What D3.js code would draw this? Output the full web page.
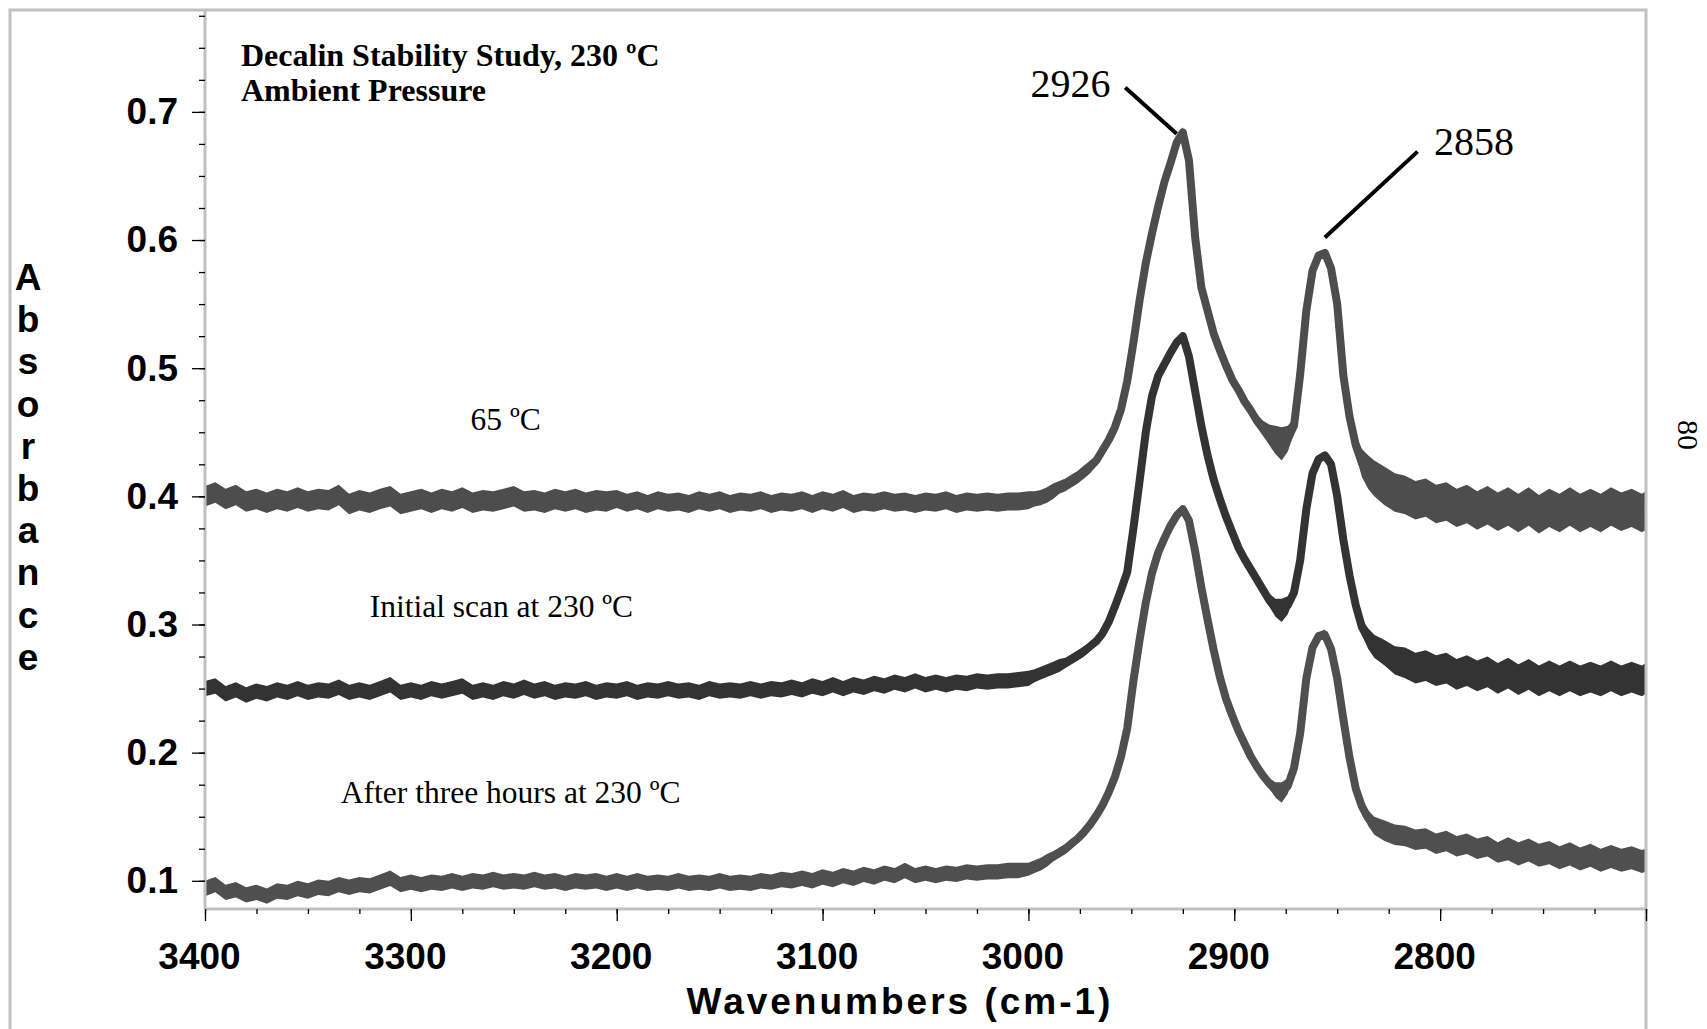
<!DOCTYPE html>
<html>
<head>
<meta charset="utf-8">
<script src="https://cdn.jsdelivr.net/npm/d3@7"></script>
<style>
  body { margin: 0; background: #fff; }
</style>
</head>
<body>
<svg id="chart"></svg>
<script>
//DATA-------------------------------------------------------------------------------------------
//sampling grid (cm-1), shared by the three spectra
const wavenumbers = [
    3400, 3395, 3390, 3385, 3380, 3375, 3370, 3365, 3360, 3355,
    3350, 3345, 3340, 3335, 3330, 3325, 3320, 3315, 3310, 3305,
    3300, 3295, 3290, 3285, 3280, 3275, 3270, 3265, 3260, 3255,
    3250, 3245, 3240, 3235, 3230, 3225, 3220, 3215, 3210, 3205,
    3200, 3195, 3190, 3185, 3180, 3175, 3170, 3165, 3160, 3155,
    3150, 3145, 3140, 3135, 3130, 3125, 3120, 3115, 3110, 3105,
    3100, 3095, 3090, 3085, 3080, 3075, 3070, 3065, 3060, 3055,
    3050, 3045, 3040, 3035, 3030, 3025, 3020, 3015, 3010, 3005,
    3000,
    2997, 2994, 2991, 2988, 2985, 2982, 2979, 2976, 2973, 2970,
    2967, 2964, 2961, 2958, 2955, 2952, 2949, 2946, 2943, 2940,
    2937, 2934, 2931, 2928, 2925, 2922, 2919, 2916, 2913, 2910,
    2907, 2904, 2901, 2898, 2895, 2892, 2889, 2886, 2883, 2880,
    2877, 2874, 2871, 2868, 2865, 2862, 2859, 2856, 2853, 2850,
    2847, 2844, 2841, 2838, 2835, 2832,
    2827, 2822, 2817, 2812, 2807, 2802, 2797, 2792, 2787, 2782,
    2777, 2772, 2767, 2762, 2757, 2752, 2747, 2742, 2737, 2732,
    2727, 2722, 2717, 2712, 2707, 2702, 2700
];

//65 ºC - absorbance (middle of the noisy trace) and half thickness of the trace
const mid65 = [
    0.400, 0.403, 0.398, 0.401, 0.396, 0.398, 0.395, 0.398, 0.396, 0.399,
    0.396, 0.398, 0.397, 0.401, 0.394, 0.397, 0.395, 0.398, 0.400, 0.394,
    0.396, 0.398, 0.395, 0.398, 0.396, 0.399, 0.395, 0.397, 0.396, 0.398,
    0.400, 0.396, 0.397, 0.395, 0.398, 0.396, 0.398, 0.395, 0.397, 0.396,
    0.398, 0.395, 0.397, 0.394, 0.397, 0.395, 0.396, 0.394, 0.397, 0.395,
    0.397, 0.394, 0.396, 0.395, 0.397, 0.394, 0.396, 0.395, 0.397, 0.394,
    0.397, 0.395, 0.398, 0.394, 0.396, 0.395, 0.397, 0.395, 0.396, 0.394,
    0.396, 0.395, 0.397, 0.394, 0.396, 0.395, 0.396, 0.395, 0.396, 0.396,
    0.397,
    0.398, 0.399, 0.401, 0.404, 0.407, 0.409, 0.412, 0.415, 0.419, 0.423,
    0.428, 0.436, 0.444, 0.454, 0.468, 0.490, 0.520, 0.553, 0.582, 0.605,
    0.626, 0.645, 0.660, 0.676, 0.684, 0.662, 0.602, 0.563, 0.545, 0.527,
    0.514, 0.502, 0.491, 0.483, 0.474, 0.467, 0.459, 0.453, 0.448, 0.444,
    0.441, 0.445, 0.455, 0.495, 0.545, 0.576, 0.588, 0.590, 0.578, 0.550,
    0.494, 0.462, 0.440, 0.426, 0.419, 0.414,
    0.408, 0.403, 0.401, 0.397, 0.399, 0.394, 0.396, 0.391, 0.394, 0.389,
    0.393, 0.388, 0.392, 0.387, 0.392, 0.386, 0.391, 0.387, 0.392, 0.387,
    0.391, 0.387, 0.392, 0.388, 0.391, 0.387, 0.389
];
const half65 = [
    0.008, 0.008, 0.008, 0.008, 0.008, 0.008, 0.008, 0.008, 0.008, 0.008,
    0.008, 0.008, 0.008, 0.008, 0.008, 0.008, 0.008, 0.008, 0.008, 0.008,
    0.008, 0.008, 0.008, 0.008, 0.008, 0.008, 0.008, 0.008, 0.008, 0.008,
    0.008, 0.008, 0.008, 0.008, 0.008, 0.008, 0.008, 0.008, 0.008, 0.008,
    0.007, 0.007, 0.007, 0.007, 0.007, 0.007, 0.007, 0.007, 0.007, 0.007,
    0.007, 0.007, 0.007, 0.007, 0.007, 0.007, 0.007, 0.007, 0.007, 0.007,
    0.007, 0.007, 0.007, 0.007, 0.007, 0.007, 0.007, 0.007, 0.007, 0.007,
    0.007, 0.007, 0.007, 0.007, 0.007, 0.007, 0.007, 0.007, 0.007, 0.007,
    0.007,
    0.006, 0.006, 0.006, 0.006, 0.005, 0.005, 0.005, 0.005, 0.005, 0.005,
    0.004, 0.004, 0.003, 0.003, 0.002, 0.001, 0.001, 0.001, 0.001, 0.002,
    0.004, 0.006, 0.006, 0.005, 0.004, 0.002, 0.001, 0.001, 0.001, 0.001,
    0.002, 0.002, 0.003, 0.004, 0.004, 0.005, 0.005, 0.006, 0.008, 0.011,
    0.013, 0.010, 0.006, 0.001, 0.001, 0.001, 0.002, 0.002, 0.001, 0.001,
    0.001, 0.004, 0.008, 0.011, 0.013, 0.014,
    0.015, 0.015, 0.015, 0.015, 0.015, 0.015, 0.015, 0.015, 0.015, 0.015,
    0.015, 0.015, 0.015, 0.015, 0.015, 0.015, 0.015, 0.015, 0.015, 0.015,
    0.015, 0.015, 0.015, 0.015, 0.015, 0.015, 0.015
];

//Initial scan at 230 ºC
const mid230 = [
    0.250, 0.252, 0.246, 0.249, 0.245, 0.248, 0.246, 0.249, 0.247, 0.250,
    0.247, 0.249, 0.248, 0.251, 0.247, 0.249, 0.247, 0.250, 0.253, 0.247,
    0.249, 0.247, 0.250, 0.248, 0.250, 0.252, 0.247, 0.249, 0.247, 0.250,
    0.248, 0.251, 0.248, 0.250, 0.247, 0.249, 0.248, 0.250, 0.247, 0.249,
    0.248, 0.250, 0.247, 0.249, 0.248, 0.250, 0.248, 0.249, 0.247, 0.250,
    0.248, 0.249, 0.248, 0.250, 0.248, 0.250, 0.249, 0.251, 0.249, 0.252,
    0.250, 0.253, 0.250, 0.253, 0.251, 0.254, 0.252, 0.255, 0.253, 0.256,
    0.253, 0.255, 0.253, 0.255, 0.254, 0.256, 0.255, 0.256, 0.256, 0.257,
    0.258,
    0.260, 0.262, 0.264, 0.266, 0.268, 0.270, 0.273, 0.276, 0.279, 0.283,
    0.287, 0.293, 0.302, 0.314, 0.327, 0.341, 0.375, 0.412, 0.450, 0.478,
    0.494, 0.503, 0.512, 0.520, 0.525, 0.509, 0.482, 0.455, 0.432, 0.413,
    0.398, 0.384, 0.372, 0.360, 0.351, 0.343, 0.335, 0.327, 0.319, 0.313,
    0.311, 0.315, 0.325, 0.350, 0.390, 0.418, 0.429, 0.432, 0.425, 0.400,
    0.366, 0.338, 0.315, 0.298, 0.289, 0.283,
    0.278, 0.272, 0.270, 0.266, 0.268, 0.264, 0.266, 0.261, 0.264, 0.260,
    0.263, 0.258, 0.262, 0.257, 0.261, 0.256, 0.260, 0.256, 0.260, 0.256,
    0.259, 0.256, 0.260, 0.256, 0.259, 0.256, 0.258
];
const half230 = [
    0.006, 0.006, 0.006, 0.006, 0.006, 0.006, 0.006, 0.006, 0.006, 0.006,
    0.006, 0.006, 0.006, 0.006, 0.006, 0.006, 0.006, 0.006, 0.006, 0.006,
    0.006, 0.006, 0.006, 0.006, 0.006, 0.006, 0.006, 0.006, 0.006, 0.006,
    0.006, 0.006, 0.006, 0.006, 0.006, 0.006, 0.006, 0.006, 0.006, 0.006,
    0.006, 0.006, 0.006, 0.006, 0.006, 0.006, 0.006, 0.006, 0.006, 0.006,
    0.006, 0.006, 0.006, 0.006, 0.006, 0.006, 0.006, 0.006, 0.006, 0.006,
    0.006, 0.006, 0.006, 0.006, 0.006, 0.006, 0.006, 0.006, 0.006, 0.006,
    0.006, 0.006, 0.006, 0.006, 0.006, 0.006, 0.006, 0.006, 0.006, 0.006,
    0.006,
    0.005, 0.005, 0.005, 0.005, 0.005, 0.004, 0.004, 0.004, 0.004, 0.003,
    0.003, 0.002, 0.002, 0.001, 0.001, 0.001, 0.001, 0.001, 0.001, 0.001,
    0.002, 0.003, 0.003, 0.003, 0.002, 0.001, 0.001, 0.001, 0.001, 0.001,
    0.001, 0.002, 0.002, 0.002, 0.003, 0.003, 0.003, 0.004, 0.005, 0.007,
    0.009, 0.007, 0.004, 0.001, 0.001, 0.001, 0.002, 0.002, 0.001, 0.001,
    0.001, 0.002, 0.004, 0.006, 0.008, 0.009,
    0.010, 0.011, 0.012, 0.012, 0.012, 0.012, 0.012, 0.012, 0.012, 0.012,
    0.012, 0.012, 0.012, 0.012, 0.012, 0.012, 0.012, 0.012, 0.012, 0.012,
    0.012, 0.012, 0.012, 0.012, 0.012, 0.012, 0.012
];

//After three hours at 230 ºC
const mid3h = [
    0.094, 0.097, 0.091, 0.093, 0.089, 0.091, 0.088, 0.092, 0.091, 0.094,
    0.092, 0.095, 0.094, 0.097, 0.095, 0.097, 0.096, 0.099, 0.102, 0.097,
    0.099, 0.097, 0.099, 0.098, 0.100, 0.098, 0.100, 0.099, 0.101, 0.099,
    0.100, 0.099, 0.101, 0.099, 0.100, 0.098, 0.100, 0.099, 0.100, 0.098,
    0.100, 0.098, 0.100, 0.098, 0.099, 0.098, 0.100, 0.098, 0.099, 0.098,
    0.100, 0.098, 0.099, 0.098, 0.100, 0.099, 0.101, 0.100, 0.102, 0.100,
    0.103, 0.101, 0.104, 0.102, 0.105, 0.103, 0.106, 0.104, 0.108, 0.104,
    0.106, 0.104, 0.106, 0.105, 0.107, 0.106, 0.107, 0.107, 0.108, 0.108,
    0.109,
    0.111, 0.113, 0.116, 0.119, 0.122, 0.125, 0.129, 0.133, 0.138, 0.144,
    0.151, 0.159, 0.169, 0.181, 0.197, 0.219, 0.256, 0.288, 0.317, 0.340,
    0.356, 0.367, 0.377, 0.385, 0.390, 0.381, 0.357, 0.329, 0.304, 0.280,
    0.259, 0.242, 0.229, 0.217, 0.207, 0.197, 0.189, 0.182, 0.176, 0.171,
    0.169, 0.174, 0.188, 0.215, 0.258, 0.282, 0.291, 0.292, 0.281, 0.258,
    0.226, 0.196, 0.172, 0.158, 0.149, 0.143,
    0.139, 0.136, 0.135, 0.132, 0.133, 0.129, 0.131, 0.127, 0.129, 0.125,
    0.127, 0.122, 0.125, 0.121, 0.124, 0.120, 0.122, 0.118, 0.121, 0.117,
    0.120, 0.116, 0.119, 0.116, 0.118, 0.115, 0.116
];
const half3h = [
    0.006, 0.006, 0.006, 0.006, 0.006, 0.006, 0.006, 0.006, 0.006, 0.006,
    0.006, 0.006, 0.006, 0.006, 0.006, 0.006, 0.006, 0.006, 0.006, 0.006,
    0.006, 0.006, 0.006, 0.006, 0.006, 0.006, 0.006, 0.006, 0.006, 0.006,
    0.006, 0.006, 0.006, 0.006, 0.006, 0.006, 0.006, 0.006, 0.006, 0.006,
    0.006, 0.006, 0.006, 0.006, 0.006, 0.006, 0.006, 0.006, 0.006, 0.006,
    0.006, 0.006, 0.006, 0.006, 0.006, 0.006, 0.006, 0.006, 0.006, 0.006,
    0.006, 0.006, 0.006, 0.006, 0.006, 0.006, 0.006, 0.006, 0.006, 0.006,
    0.006, 0.006, 0.006, 0.006, 0.006, 0.006, 0.006, 0.006, 0.006, 0.006,
    0.005,
    0.005, 0.005, 0.005, 0.004, 0.004, 0.004, 0.004, 0.003, 0.003, 0.003,
    0.002, 0.002, 0.001, 0.001, 0.001, 0.001, 0.001, 0.001, 0.001, 0.001,
    0.001, 0.002, 0.002, 0.003, 0.003, 0.002, 0.001, 0.001, 0.001, 0.001,
    0.001, 0.001, 0.001, 0.002, 0.002, 0.002, 0.003, 0.003, 0.004, 0.006,
    0.008, 0.006, 0.003, 0.001, 0.001, 0.002, 0.003, 0.004, 0.002, 0.001,
    0.001, 0.001, 0.002, 0.004, 0.006, 0.007,
    0.008, 0.008, 0.008, 0.008, 0.008, 0.008, 0.008, 0.008, 0.008, 0.008,
    0.008, 0.008, 0.009, 0.009, 0.009, 0.009, 0.009, 0.009, 0.009, 0.009,
    0.009, 0.009, 0.009, 0.009, 0.009, 0.009, 0.009
];

//series labels and where they sit (wavenumber, absorbance of the baseline)
const seriesNames = ["65 ºC", "Initial scan at 230 ºC", "After three hours at 230 ºC"];
const seriesLabelWn = [3271, 3320, 3334];
const seriesLabelAbs = [0.452, 0.306, 0.161];

//peak annotations
const peakLabels = ["2926", "2858"];
const peakLabelWn = [2999, 2803];
const peakLabelAbs = [0.712, 0.666];
const leaderFromWn = [2953, 2811];
const leaderFromAbs = [0.719, 0.669];
const leaderToWn = [2928, 2856];
const leaderToAbs = [0.683, 0.602];

//axis ticks
const xMajorTicks = [3400, 3300, 3200, 3100, 3000, 2900, 2800, 2700];
const xTickLabels = ["3400", "3300", "3200", "3100", "3000", "2900", "2800", ""];
const yMajorTicks = [0.1, 0.2, 0.3, 0.4, 0.5, 0.6, 0.7];
const yTickLabels = ["0.1", "0.2", "0.3", "0.4", "0.5", "0.6", "0.7"];
const yAxisTitle = "Absorbance";
const xAxisTitle = "Wavenumbers (cm-1)";
const chartTitle = ["Decalin Stability Study, 230 ºC", "Ambient Pressure"];
const pageNumber = "80";

//LAYOUT-----------------------------------------------------------------------------------------
const width = 1707, height = 1029;
const margin = { top: 10, right: 61, bottom: 120, left: 205 };
const sans = "'Liberation Sans', Arial, sans-serif";
const serif = "'Liberation Serif', 'Times New Roman', serif";
const frameColor = "#c0c0c0";

const svg = d3.select("#chart")
    .attr("width", width)
    .attr("height", height)
    .style("display", "block");

const x = d3.scaleLinear()
    .domain([3400, 2700])
    .range([margin.left, width - margin.right]);

const y = d3.scaleLinear()
    .domain([0.078, 0.7795])
    .range([height - margin.bottom, margin.top]);

//clip so the thick traces stop at the axes
svg.append("defs").append("clipPath").attr("id", "plotClip")
    .append("rect")
    .attr("x", margin.left)
    .attr("y", margin.top)
    .attr("width", width - margin.right - margin.left)
    .attr("height", height - margin.bottom - margin.top);

//SPECTRA----------------------------------------------------------------------------------------
const series = [
    { mid: mid65, half: half65, color: "#4d4d4d" },
    { mid: mid230, half: half230, color: "#333333" },
    { mid: mid3h, half: half3h, color: "#4f4f4f" }
];

const plot = svg.append("g").attr("clip-path", "url(#plotClip)");

series.forEach(s => {
    const n = Math.min(wavenumbers.length, s.mid.length, s.half.length);
    if (n !== wavenumbers.length) console.log("length mismatch", s.mid.length, s.half.length);
    const pts = wavenumbers.slice(0, n).map((w, i) => ({ w: w, m: s.mid[i], h: s.half[i] }));

    //noisy band
    plot.append("path")
        .datum(pts)
        .attr("fill", s.color)
        .attr("d", d3.area()
            .x(d => x(d.w))
            .y0(d => y(d.m - d.h))
            .y1(d => y(d.m + d.h)));

    //trace itself
    plot.append("path")
        .datum(pts)
        .attr("fill", "none")
        .attr("stroke", s.color)
        .attr("stroke-width", 8)
        .attr("stroke-linejoin", "round")
        .attr("d", d3.line()
            .x(d => x(d.w))
            .y(d => y(d.m)));
});

//FRAME & AXES-----------------------------------------------------------------------------------
const frame = svg.append("g")
    .attr("stroke", frameColor)
    .attr("stroke-width", 3)
    .attr("fill", "none");
frame.append("path")
    .attr("d", `M10,${height} V10 H${width - margin.right} V${height}`);
frame.append("line")
    .attr("x1", margin.left).attr("x2", margin.left)
    .attr("y1", margin.top).attr("y2", height - margin.bottom);
frame.append("line")
    .attr("x1", margin.left).attr("x2", width - margin.right)
    .attr("y1", height - margin.bottom).attr("y2", height - margin.bottom);

//x axis: minor ticks every 25 cm-1, major every 100
const xMinor = svg.append("g")
    .attr("transform", `translate(0,${height - margin.bottom})`)
    .call(d3.axisBottom(x).tickValues(d3.range(3400, 2699, -25)).tickSize(5).tickFormat(""));
const xMajor = svg.append("g")
    .attr("transform", `translate(0,${height - margin.bottom})`)
    .call(d3.axisBottom(x).tickValues(xMajorTicks).tickSize(12).tickPadding(22)
        .tickFormat((d, i) => xTickLabels[i]));

//y axis: minor ticks every 0.025, major every 0.1
const yMinor = svg.append("g")
    .attr("transform", `translate(${margin.left},0)`)
    .call(d3.axisLeft(y).tickValues(d3.range(4, 32).map(i => i * 0.025)).tickSize(6).tickFormat(""));
const yMajor = svg.append("g")
    .attr("transform", `translate(${margin.left},0)`)
    .call(d3.axisLeft(y).tickValues(yMajorTicks).tickSize(13).tickPadding(14)
        .tickFormat((d, i) => yTickLabels[i]));

[xMinor, xMajor, yMinor, yMajor].forEach(a => {
    a.select(".domain").remove();
    a.selectAll(".tick line").attr("stroke", "#000").attr("stroke-width", 1.3);
    a.selectAll("text")
        .attr("fill", "#000")
        .style("font-family", sans)
        .style("font-size", "37px")
        .style("font-weight", "bold");
});
xMajor.selectAll("text").attr("dx", -6);

//axis titles
svg.append("text")
    .attr("x", 900)
    .attr("y", 1014)
    .attr("text-anchor", "middle")
    .style("font-family", sans)
    .style("font-size", "37px")
    .style("font-weight", "bold")
    .style("letter-spacing", "3px")
    .text(xAxisTitle);

svg.append("g")
    .selectAll("text")
    .data(yAxisTitle.split(""))
    .join("text")
    .attr("x", 28)
    .attr("y", (d, i) => 290 + i * 42.2)
    .attr("text-anchor", "middle")
    .style("font-family", sans)
    .style("font-size", "37px")
    .style("font-weight", "bold")
    .text(d => d);

//TEXTS------------------------------------------------------------------------------------------
//title block
svg.append("g")
    .selectAll("text")
    .data(chartTitle)
    .join("text")
    .attr("x", 241)
    .attr("y", (d, i) => 66 + i * 35)
    .style("font-family", serif)
    .style("font-size", "32px")
    .style("font-weight", "bold")
    .text(d => d);

//series labels
svg.append("g")
    .selectAll("text")
    .data(seriesNames)
    .join("text")
    .attr("x", (d, i) => x(seriesLabelWn[i]))
    .attr("y", (d, i) => y(seriesLabelAbs[i]))
    .style("font-family", serif)
    .style("font-size", "31.5px")
    .text(d => d);

//peak annotations
const notes = svg.append("g");
notes.selectAll("line")
    .data(peakLabels)
    .join("line")
    .attr("x1", (d, i) => x(leaderFromWn[i]))
    .attr("y1", (d, i) => y(leaderFromAbs[i]))
    .attr("x2", (d, i) => x(leaderToWn[i]))
    .attr("y2", (d, i) => y(leaderToAbs[i]))
    .attr("stroke", "#000")
    .attr("stroke-width", 4);
notes.selectAll("text")
    .data(peakLabels)
    .join("text")
    .attr("x", (d, i) => x(peakLabelWn[i]))
    .attr("y", (d, i) => y(peakLabelAbs[i]))
    .style("font-family", serif)
    .style("font-size", "40px")
    .text(d => d);

//page number on the margin, turned sideways
svg.append("text")
    .attr("transform", "translate(1688,435) rotate(90)")
    .attr("text-anchor", "middle")
    .attr("dominant-baseline", "central")
    .style("font-family", serif)
    .style("font-size", "30px")
    .text(pageNumber);
</script>
</body>
</html>
